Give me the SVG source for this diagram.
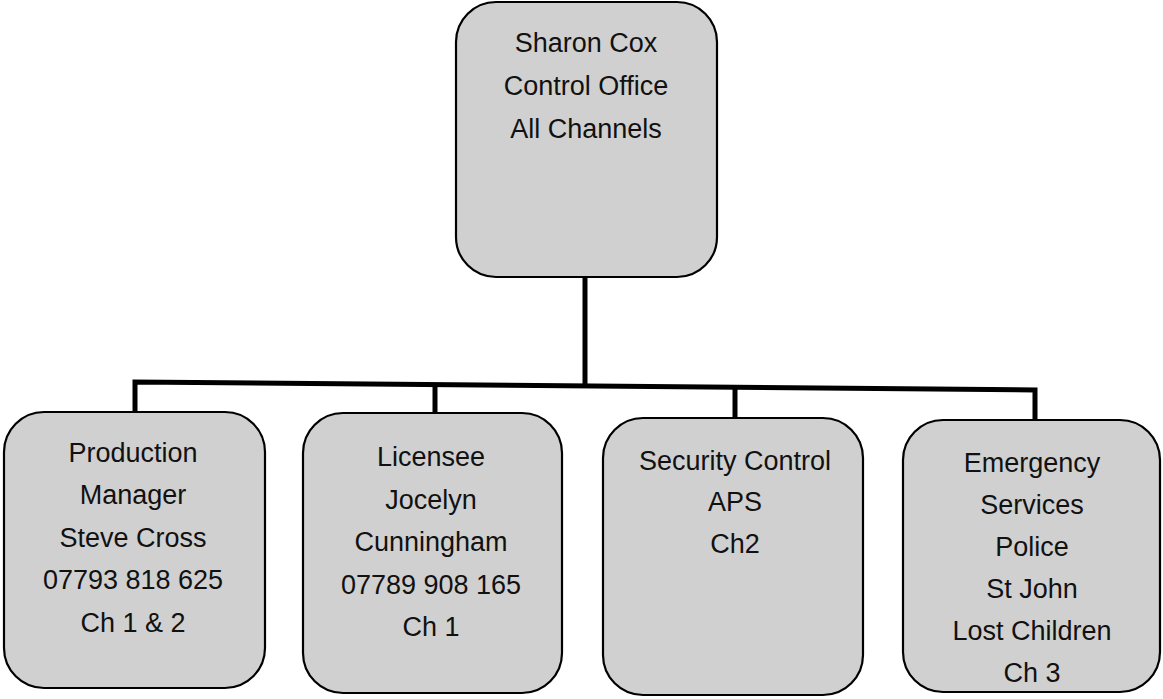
<svg xmlns="http://www.w3.org/2000/svg" width="1163" height="699" viewBox="0 0 1163 699">
<style>
.box{fill:#d0d0d0;stroke:#000;stroke-width:2.2}
.t{font-family:"Liberation Sans",Arial,sans-serif;font-size:27px;fill:#111;text-anchor:middle}
.c{fill:none;stroke:#000;stroke-width:5;stroke-linejoin:miter}
</style>
<rect width="1163" height="699" fill="#fff"/>
<g id="connectors">
<line class="c" x1="585" y1="277" x2="585" y2="386"/>
<polyline class="c" points="135,412 135,382 1035,390 1035,420"/>
<line class="c" x1="435" y1="385" x2="435" y2="413"/>
<line class="c" x1="735" y1="387" x2="735" y2="418"/>
</g>
<g id="n0">
<rect class="box" x="456" y="2" width="261" height="275" rx="40"/>
<text class="t" x="586" y="52">Sharon Cox</text>
<text class="t" x="586" y="95">Control Office</text>
<text class="t" x="586" y="138">All Channels</text>
</g>
<g id="n1">
<rect class="box" x="4" y="412" width="261" height="276" rx="40"/>
<text class="t" x="133" y="462">Production</text>
<text class="t" x="133" y="504">Manager</text>
<text class="t" x="133" y="547">Steve Cross</text>
<text class="t" x="133" y="589">07793 818 625</text>
<text class="t" x="133" y="632">Ch 1 &amp; 2</text>
</g>
<g id="n2">
<rect class="box" x="303" y="413" width="259" height="280" rx="40"/>
<text class="t" x="431" y="466">Licensee</text>
<text class="t" x="431" y="509">Jocelyn</text>
<text class="t" x="431" y="551">Cunningham</text>
<text class="t" x="431" y="594">07789 908 165</text>
<text class="t" x="431" y="636">Ch 1</text>
</g>
<g id="n3">
<rect class="box" x="603" y="418" width="260" height="277" rx="40"/>
<text class="t" x="735" y="470">Security Control</text>
<text class="t" x="735" y="511">APS</text>
<text class="t" x="735" y="553">Ch2</text>
</g>
<g id="n4">
<rect class="box" x="903" y="420" width="257" height="272" rx="40"/>
<text class="t" x="1032" y="472">Emergency</text>
<text class="t" x="1032" y="514">Services</text>
<text class="t" x="1032" y="556">Police</text>
<text class="t" x="1032" y="598">St John</text>
<text class="t" x="1032" y="640">Lost Children</text>
<text class="t" x="1032" y="682">Ch 3</text>
</g>
</svg>
